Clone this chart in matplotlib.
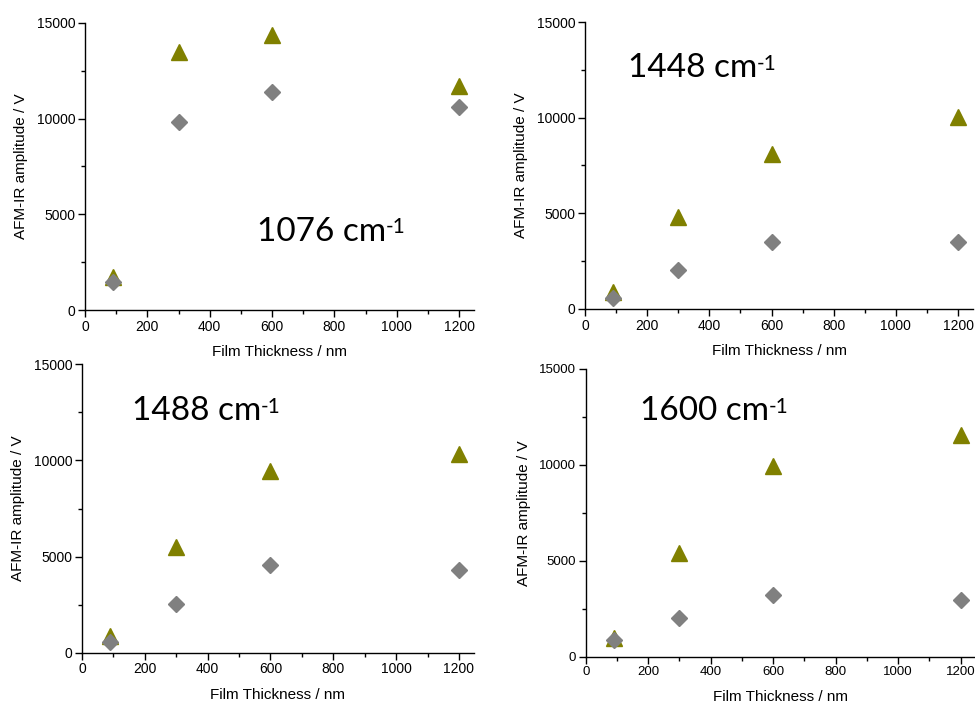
import numpy as np
import matplotlib
matplotlib.use("Agg")
import matplotlib.pyplot as plt
from matplotlib.ticker import MultipleLocator

plt.rcParams['font.family'] = ['Liberation Sans', 'DejaVu Sans']

# film thickness (nm), shared by all four panels
thickness = [90, 300, 600, 1200]

# AFM-IR amplitudes (V) per band: triangles (olive) and diamonds (grey)
tri_1076 = [1750, 13500, 14350, 11700]
dia_1076 = [1450, 9800, 11380, 10600]
tri_1448 = [900, 4830, 8100, 10030]
dia_1448 = [600, 2020, 3520, 3520]
tri_1488 = [870, 5480, 9470, 10330]
dia_1488 = [570, 2530, 4540, 4300]
tri_1600 = [990, 5420, 9950, 11550]
dia_1600 = [870, 2030, 3210, 2950]

band_labels = ["1076", "1448", "1488", "1600"]

# layout per panel: axes rect (pixels), label position (data), tick fontsize
W, H = 975.0, 702.0
panels = [
    (tri_1076, dia_1076, band_labels[0], (85, 310, 389, 287), (552, 4100), 10),
    (tri_1448, dia_1448, band_labels[1], (585, 309, 388, 287), (138, 12600), 10),
    (tri_1488, dia_1488, band_labels[2], (82, 652.7, 392, 288.4), (159, 12550), 10),
    (tri_1600, dia_1600, band_labels[3], (585.7, 656.7, 390, 288), (174, 12800), 9.5),
]

fig = plt.figure(figsize=(9.75, 7.02), dpi=100)

for tri, dia, band, (px, py, pw, ph), (lx, ly), tfs in panels:
    ax = fig.add_axes([px / W, 1 - py / H, pw / W, ph / H])
    ax.plot(thickness, tri, linestyle='none', marker='^', ms=12,
            color='#808000', mec='#808000')
    ax.plot(thickness, dia, linestyle='none', marker='D', ms=8,
            color='#808080', mec='#808080')

    ax.set_xlim(0, 1248)
    ax.set_ylim(0, 15000)
    ax.set_xticks([0, 200, 400, 600, 800, 1000, 1200])
    ax.set_yticks([0, 5000, 10000, 15000])
    ax.xaxis.set_minor_locator(MultipleLocator(100))
    ax.yaxis.set_minor_locator(MultipleLocator(2500))
    ax.tick_params(which='major', direction='out', length=5, width=1,
                   labelsize=tfs, pad=2)
    ax.tick_params(which='minor', direction='out', length=3, width=1)

    for s in ['top', 'right']:
        ax.spines[s].set_visible(False)
    for s in ['left', 'bottom']:
        ax.spines[s].set_linewidth(1)

    ax.set_xlabel("Film Thickness / nm", fontsize=11, labelpad=8)
    ax.set_ylabel("AFM-IR amplitude / V", fontsize=11, labelpad=6)
    ax.patch.set_alpha(0)

    t = ax.text(lx, ly, band + " cm", fontsize=24, family=['Lato', 'DejaVu Sans'],
                ha='left', va='center', color='black')
    ax.annotate("-1", xy=(1, 0.97), xycoords=t, ha='left', va='top',
                fontsize=15, family=['Lato', 'DejaVu Sans'], color='black')

fig.savefig("out.png", dpi=100)
